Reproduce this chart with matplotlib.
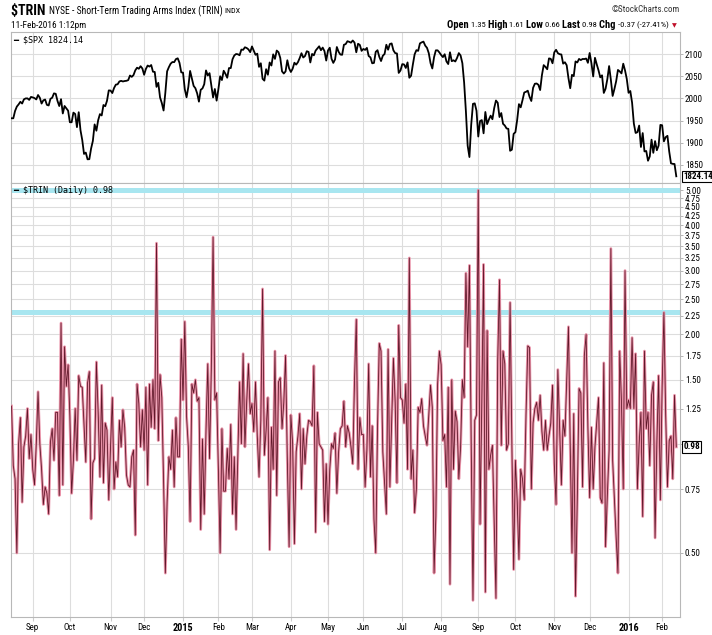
import numpy as np
import pandas as pd
import matplotlib
matplotlib.use('Agg')
import matplotlib.pyplot as plt
from matplotlib import font_manager
from matplotlib.ticker import FixedLocator, NullLocator, FixedFormatter

# ---------------- data ----------------
holidays = ['2014-09-01', '2014-11-27', '2014-12-25', '2015-01-01', '2015-01-19',
            '2015-02-16', '2015-04-03', '2015-05-25', '2015-07-03', '2015-09-07',
            '2015-11-26', '2015-12-25', '2016-01-01', '2016-01-18']
dates = pd.bdate_range('2014-08-14', '2016-02-11')
dates = dates[~dates.isin(pd.to_datetime(holidays))]

spx_2014 = [1955.2, 1955.1, 1971.7, 1981.6, 1986.5, 1992.4, 1988.4, 1997.9, 2000.0, 2000.1, 1996.7, 2003.4,
            2002.3, 2000.7, 1997.7, 2007.7, 2001.5, 1988.4, 1995.7, 1997.5, 1985.5, 1984.1, 1999.0, 2001.6,
            2011.4, 2010.4, 1994.3, 1982.8, 1998.3, 1966.0, 1982.9, 1977.8, 1972.3,
            1946.2, 1946.2, 1967.9, 1964.8, 1935.1, 1968.9, 1928.2, 1906.1, 1874.7, 1877.7, 1862.5, 1862.8,
            1886.8, 1904.0, 1941.3, 1927.1, 1950.8, 1964.6, 1961.6, 1985.1, 1982.3, 1994.7, 2018.1,
            2017.8, 2012.1, 2023.6, 2031.2, 2031.9, 2038.3, 2039.7, 2038.3, 2039.3, 2039.8, 2041.3, 2051.8,
            2048.7, 2052.8, 2063.5, 2069.4, 2067.0, 2072.8, 2067.6,
            2053.4, 2066.6, 2074.3, 2071.9, 2075.4, 2060.3, 2059.8, 2026.1, 2035.3, 2002.3, 1989.6, 1972.7,
            2012.9, 2061.2, 2070.7, 2078.5, 2082.2, 2081.9, 2088.8, 2090.6, 2080.4, 2058.9]
spx_2015 = [2058.2, 2020.6, 2002.6, 2025.9, 2062.1, 2044.8, 2028.3, 2023.0, 2011.3, 1992.7, 2019.4, 2022.6,
            2032.1, 2063.2, 2051.8, 2057.1, 2029.6, 2002.2, 2021.3, 1995.0,
            2020.9, 2050.0, 2041.5, 2062.5, 2055.5, 2046.7, 2068.6, 2068.5, 2088.5, 2097.0, 2100.3, 2099.7,
            2097.5, 2110.3, 2109.7, 2115.5, 2113.9, 2110.7, 2104.5,
            2117.4, 2107.8, 2098.5, 2101.0, 2071.3, 2079.4, 2044.2, 2040.2, 2066.0, 2053.4, 2081.2, 2074.3,
            2099.5, 2089.3, 2108.1, 2104.4, 2091.5, 2061.1, 2056.2, 2061.0, 2086.2, 2067.9,
            2059.7, 2067.0, 2080.6, 2076.3, 2081.9, 2091.2, 2102.1, 2092.4, 2095.8, 2106.6, 2105.0, 2081.2,
            2100.4, 2097.3, 2108.0, 2112.9, 2117.7, 2108.9, 2114.8, 2106.9, 2085.5,
            2108.3, 2114.5, 2089.5, 2080.2, 2088.0, 2116.1, 2105.3, 2099.1, 2098.5, 2121.1, 2122.7, 2129.2,
            2127.8, 2125.9, 2130.8, 2126.1, 2104.2, 2123.5, 2120.8, 2107.4,
            2111.7, 2109.6, 2114.1, 2095.8, 2092.8, 2079.3, 2080.2, 2105.2, 2108.9, 2094.1, 2084.4, 2096.3,
            2100.4, 2121.2, 2110.0, 2122.9, 2124.2, 2108.6, 2102.3, 2101.5, 2057.6, 2063.1,
            2077.4, 2076.8, 2068.8, 2081.3, 2046.7, 2051.3, 2076.6, 2099.6, 2109.0, 2107.4, 2124.3, 2126.6,
            2128.3, 2119.2, 2114.2, 2102.2, 2079.7, 2067.6, 2093.3, 2108.6, 2108.6, 2103.8,
            2098.0, 2093.3, 2099.8, 2083.6, 2077.6, 2104.2, 2084.1, 2086.1, 2083.4, 2091.5, 2102.4, 2096.9,
            2079.6, 2035.7, 1970.9, 1893.2, 1867.6, 1940.5, 1987.7, 1988.9, 1972.2,
            1913.9, 1948.9, 1951.1, 1921.2, 1969.4, 1942.0, 1952.3, 1961.1, 1953.0, 1978.1, 1995.3, 1990.2,
            1958.0, 1967.0, 1942.7, 1938.8, 1932.2, 1931.3, 1881.8, 1884.1, 1920.0,
            1923.8, 1951.4, 1987.1, 1979.9, 1995.8, 2013.4, 2014.9, 2017.5, 2003.7, 1994.2, 2023.9, 2033.1,
            2033.7, 2030.8, 2018.9, 2052.5, 2075.2, 2071.2, 2065.9, 2090.4, 2089.4, 2079.4,
            2104.1, 2109.8, 2102.3, 2099.9, 2099.2, 2078.6, 2081.7, 2075.0, 2046.0, 2023.0, 2053.2, 2050.4,
            2083.6, 2081.2, 2089.2, 2086.6, 2089.1, 2088.9, 2090.1, 2080.4,
            2102.6, 2079.5, 2049.6, 2091.7, 2077.1, 2063.6, 2047.6, 2052.2, 2012.4, 2021.9, 2043.4, 2073.1,
            2041.9, 2005.6, 2021.2, 2039.0, 2064.3, 2061.0, 2056.5, 2078.4, 2063.4, 2043.9]
spx_2016 = [2012.7, 2016.7, 1990.3, 1943.1, 1922.0, 1923.7, 1938.7, 1890.3, 1921.8, 1880.3, 1881.3, 1859.3,
            1869.0, 1906.9, 1877.1, 1903.6, 1883.0, 1893.4, 1940.2,
            1939.4, 1903.0, 1912.5, 1915.5, 1880.1, 1853.4, 1852.2, 1851.9, 1824.14]
spx = spx_2014 + spx_2015 + spx_2016

trin_a = [1.27, 0.87, 0.80, 0.50, 1.00, 1.18, 0.69, 0.98, 1.05, 1.25, 0.91, 1.06, 0.85, 0.77, 1.00, 1.39,
          1.00, 0.85, 0.68, 0.76, 0.73, 0.64, 1.01, 1.10, 0.90, 1.22, 1.22, 0.72, 2.15, 0.77, 1.85, 1.44,
          1.65, 1.19, 0.73, 0.90, 1.25, 0.90, 1.54, 1.44, 1.43, 1.12, 0.89, 1.47, 1.58, 0.62, 0.885, 0.91,
          1.68, 1.22, 0.81, 1.45, 0.78, 1.14, 1.09, 0.70, 0.98, 1.34, 0.75, 0.89, 0.81, 1.16, 0.98, 1.24,
          1.11, 0.82, 0.77, 0.76, 0.92, 0.96, 0.56, 1.46, 1.29, 0.98, 1.24, 0.96, 1.43, 0.77, 1.46, 1.11,
          1.50, 1.10, 3.57, 1.02, 1.55, 1.34, 0.79, 0.44, 0.69, 0.92, 0.85, 1.09, 0.76, 1.18, 0.92, 0.92]
trin_b = [1.94, 1.32, 2.17, 1.19, 0.98, 0.61, 1.46, 1.38, 1.50, 1.31, 1.34, 0.58, 1.03, 0.64, 1.09, 1.66,
          0.91, 1.60, 3.71, 1.32, 1.38, 0.85, 0.50, 1.10, 0.74, 0.74, 0.97, 0.80, 1.13, 0.64, 0.92, 0.58,
          0.92, 1.48, 1.00, 1.77, 0.98, 1.30, 1.66, 1.21, 1.29, 1.08, 1.48, 1.05, 0.81, 1.16, 2.67, 0.93,
          1.09, 1.34, 0.51, 1.11, 0.85, 1.80, 0.72, 1.48, 1.52, 1.10, 1.30, 1.75, 0.90, 0.52, 1.20, 1.00,
          0.53, 0.95, 1.05, 1.21, 0.75, 1.10, 0.88, 1.05, 1.16, 1.15, 1.12, 1.64, 0.57, 1.22, 1.00, 0.98,
          0.96, 0.61, 0.88, 0.60, 0.85, 1.00, 0.97, 1.07, 0.73, 0.95, 1.10, 1.12, 1.31, 0.98, 1.12, 1.07,
          0.98, 0.88]
trin_c = [1.50, 2.20, 0.85, 1.18, 1.06, 1.06, 0.76, 0.96, 1.66, 0.81, 1.12, 0.62, 0.50, 1.10, 1.89, 1.80,
          0.95, 0.78, 0.64, 1.82, 0.76, 1.15, 1.72, 1.30, 0.78, 2.12, 1.34, 1.32, 1.14, 1.46, 0.85, 3.25,
          0.80, 0.96, 0.645, 0.75, 1.26, 1.22, 1.33, 1.12, 1.05, 0.99, 1.20, 1.45, 1.26, 0.44, 0.63, 1.46,
          1.80, 1.65, 1.02, 1.06, 0.76, 1.43, 0.41, 1.50, 0.85, 1.23, 1.15, 0.80, 0.98, 1.50, 1.34, 2.95,
          1.85, 3.10, 1.00, 0.37, 1.16, 1.20, 5.00, 0.60, 1.30, 3.12, 0.39, 2.05, 0.85, 0.93, 0.99, 0.60,
          0.375, 1.70, 2.83, 0.99, 1.80, 1.66, 0.96, 1.00, 2.45, 1.00, 0.45, 0.90, 0.70, 0.48, 0.85, 0.80]
trin_d = [0.70, 1.20, 1.86, 1.84, 0.75, 1.14, 1.25, 1.30, 1.16, 1.36, 1.08, 0.96, 1.16, 0.96, 1.05, 1.14,
          1.45, 0.88, 0.68, 1.60, 1.10, 0.77, 1.16, 1.05, 1.47, 2.10, 1.00, 0.50, 1.21, 0.38, 0.70, 1.42,
          1.38, 0.76, 1.75, 2.00, 1.11, 0.71, 1.11, 0.75, 0.98, 1.15, 1.34, 0.71, 0.686, 1.67, 0.52, 0.72,
          0.96, 3.45, 0.90, 0.70, 0.55, 0.44, 1.80, 1.30, 0.75, 3.00, 1.25, 1.32, 1.25, 1.96, 1.25, 1.77,
          0.75, 1.00, 1.22, 0.63, 1.80, 1.10, 1.22, 0.87, 1.36, 1.48, 0.55, 1.00, 1.54, 0.70, 1.44, 2.30,
          1.20, 0.76, 1.02, 1.05, 0.80, 1.36, 0.98]
trin = trin_a + trin_b + trin_c + trin_d

spx_ticks = [1850, 1900, 1950, 2000, 2050, 2100]
trin_ticks = [0.50, 0.75, 1.00, 1.25, 1.50, 1.75, 2.00, 2.25, 2.50, 2.75, 3.00, 3.25, 3.50,
              3.75, 4.00, 4.25, 4.50, 4.75, 5.00]
trin_bands = [5.0, 2.3]

# ---------------- fonts ----------------
names = {f.name for f in font_manager.fontManager.ttflist}
if 'Liberation Sans Narrow' in names:
    NF = dict(family=['Liberation Sans Narrow', 'DejaVu Sans'])
    K = 1.0
elif 'Roboto Condensed' in names:
    NF = dict(family=['Roboto Condensed', 'DejaVu Sans'])
    K = 0.95
else:
    NF = dict(family=['Liberation Sans', 'DejaVu Sans'])
    K = 0.85

# ---------------- layout ----------------
W, H = 712, 635
fig = plt.figure(figsize=(W / 100, H / 100), dpi=100)
fig.patch.set_facecolor('white')


def rect(l, t, r, b):
    return [l / W, 1 - b / H, (r - l) / W, (b - t) / H]


ax1 = fig.add_axes(rect(11, 32, 680, 183))
ax2 = fig.add_axes(rect(11, 183, 680, 617), sharex=ax1)

x = np.arange(len(dates))
n = min(len(x), len(spx), len(trin))

ax1.plot(x[:n], spx[:n], color='black', lw=1.3, zorder=3)
ax2.plot(x[:n], trin[:n], color='#ea94aa', lw=2.0, zorder=3)
ax2.plot(x[:n], trin[:n], color='#60182a', lw=0.6, zorder=4)

ax2.set_yscale('log')
ax2.set_ylim(0.333, 5.23)
ax1.set_ylim(1809, 2150)
ax1.set_xlim(-0.3, 378.1)

for lvl in trin_bands:
    ax2.axhline(lvl, color='#a8e6f0', lw=3.6, zorder=2)

# month ticks
month_idx, month_lab, month_bold = [], [], []
prev = None
for i, d in enumerate(dates):
    key = (d.year, d.month)
    if prev is not None and key != prev:
        month_idx.append(i)
        if d.month == 1:
            month_lab.append(str(d.year))
            month_bold.append(True)
        else:
            month_lab.append(d.strftime('%b'))
            month_bold.append(False)
    prev = key

grid_c = '#dddddd'
for ax in (ax1, ax2):
    ax.set_facecolor('white')
    for s in ax.spines.values():
        s.set_color('#b8b8b8')
        s.set_linewidth(0.8)
    ax.xaxis.set_major_locator(FixedLocator(month_idx))
    ax.xaxis.set_minor_locator(NullLocator())
    ax.yaxis.set_minor_locator(NullLocator())
    ax.grid(True, color=grid_c, lw=0.8, zorder=0)
    ax.set_axisbelow(True)
    ax.yaxis.tick_right()
    ax.tick_params(axis='y', length=2, width=0.6, color='#aaaaaa', pad=1.5)

ysize = 6.9 * K
ax1.yaxis.set_major_locator(FixedLocator(spx_ticks))
ax1.set_yticklabels([str(v) for v in spx_ticks], fontsize=ysize, **NF)
ax1.tick_params(axis='x', length=0, labelbottom=False)

ax2.yaxis.set_major_locator(FixedLocator(trin_ticks))
ax2.yaxis.set_minor_locator(NullLocator())
ax2.yaxis.set_major_formatter(FixedFormatter(['' if abs(v - 1.0) < 1e-9 else f'{v:.2f}' for v in trin_ticks]))
for lab in ax2.get_yticklabels():
    lab.set_family(NF['family'])
    lab.set_fontsize(ysize)
ax2.tick_params(axis='x', length=3, color='#cccccc', pad=1.5)
ax2.set_xticklabels(month_lab)
for lab, b in zip(ax2.get_xticklabels(), month_bold):
    lab.set_family(NF['family'])
    lab.set_fontsize(7.8 * K if b else 6.8 * K)
    lab.set_fontweight('bold' if b else 'normal')

# last value boxes
box = dict(boxstyle='square,pad=0.12', fc='white', ec='black', lw=0.8)
ax1.text(1.005, spx[-1], f'{spx[-1]:.2f}', transform=ax1.get_yaxis_transform(), ha='left',
         va='center', fontsize=6.8 * K, fontweight='bold', bbox=box, zorder=10, clip_on=False, **NF)
ax2.text(1.005, trin[-1], f'{trin[-1]:.2f}', transform=ax2.get_yaxis_transform(), ha='left',
         va='center', fontsize=7.0 * K, fontweight='bold', bbox=box, zorder=10, clip_on=False, **NF)

# legend labels
fig.text(13 / W, 1 - 40 / H, f'\u2501 $SPX {spx[-1]:.2f}', fontsize=6.0, family='DejaVu Sans Mono',
         va='center', ha='left')
fig.text(13 / W, 1 - 191 / H, f'\u2501 $TRIN (Daily) {trin[-1]:.2f}', fontsize=6.0,
         family='DejaVu Sans Mono', va='center', ha='left', zorder=10)

# header
renderer = fig.canvas.get_renderer()


def seq_text(x_px, y_px, parts, align='left'):
    objs = []
    for txt, w, sz, col in parts:
        t = fig.text(0, 0, txt, fontsize=sz, fontweight=w, color=col,
                     va='center', ha='left', **NF)
        objs.append(t)
    widths = [o.get_window_extent(renderer).width for o in objs]
    total = sum(widths)
    cx = x_px if align == 'left' else x_px - total
    for o, wdt in zip(objs, widths):
        o.set_position((cx / W, 1 - y_px / H))
        cx += wdt


seq_text(11, 11, [('$TRIN ', 'bold', 10.5 * K, 'black'),
                  ('NYSE - Short-Term Trading Arms Index (TRIN) ', 'normal', 7.3 * K, 'black'),
                  ('INDX', 'normal', 6.2 * K, 'black')])
seq_text(11, 25, [('11-Feb-2016 1:12pm', 'normal', 7.0 * K, 'black')])
seq_text(680, 10, [('\u00a9StockCharts.com', 'normal', 6.8 * K, '#333333')], align='right')
seq_text(669, 25, [('Open ', 'bold', 8.0 * K, 'black'), ('1.35 ', 'normal', 6.4 * K, 'black'),
                   ('High ', 'bold', 8.0 * K, 'black'), ('1.61 ', 'normal', 6.4 * K, 'black'),
                   ('Low ', 'bold', 8.0 * K, 'black'), ('0.66 ', 'normal', 6.4 * K, 'black'),
                   ('Last ', 'bold', 8.0 * K, 'black'), ('0.98 ', 'normal', 6.4 * K, 'black'),
                   ('Chg ', 'bold', 8.0 * K, 'black'), ('-0.37 (-27.41%)', 'normal', 6.4 * K, 'black')],
         align='right')
fig.text(674 / W, 1 - 26 / H, '\u25bc', fontsize=4.5, color='#c0102a', family='DejaVu Sans',
         va='center', ha='center')

fig.savefig('out.png', dpi=100)
